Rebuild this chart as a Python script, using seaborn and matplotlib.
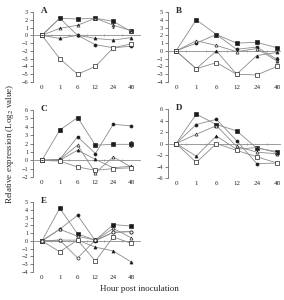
import matplotlib
matplotlib.use("Agg")
import matplotlib.pyplot as plt
import seaborn as sns

sns.set_style("ticks")
plt.rcParams['font.family'] = ['Liberation Serif', 'DejaVu Serif']
plt.rcParams['mathtext.fontset'] = 'stix'

hours = ["0", "1", "6", "12", "24", "48"]

# Panel A
a_s1 = [0, 2.2, 2.1, 2.2, 1.8, 0.5]
a_s2 = [0, 2.2, 0.0, -1.2, -1.6, -1.4]
a_s3 = [0, 0.9, 1.3, 2.2, 1.3, 0.6]
a_s4 = [0, -0.4, 0.0, -0.4, -0.6, -0.3]
a_s5 = [0, -3.0, -5.0, -4.0, -1.6, -1.1]
a_err3 = [0, 0, 0, 0, 0.4, 0]

# Panel B
b_s1 = [0, 4.0, 2.1, 1.0, 1.1, 0.4]
b_s2 = [0, 1.0, 2.1, 0.2, 0.5, -1.1]
b_s3 = [0, 1.3, 0.7, -0.1, 0.3, -1.3]
b_s4 = [0, -2.3, 0.0, -3.0, -0.6, -0.2]
b_s5 = [0, -2.3, -1.5, -3.0, -3.1, -2.0]
b_err2 = [0, 0, 0, 0, 0, 0.3]

# Panel C
c_s1 = [0, 3.6, 5.1, 1.8, 1.9, 1.9]
c_s2 = [0, 0.1, 2.8, 0.8, 4.3, 4.1]
c_s3 = [0, 0.1, 1.8, -1.5, 0.4, -0.8]
c_s4 = [0, 0.0, 1.2, 0.1, -0.9, -0.7]
c_s5 = [0, -0.1, -0.8, -1.2, -1.0, -0.9]
c_err1 = [0, 0.25, 0, 0, 0.1, 0.35]

# Panel D
d_s1 = [0, 5.1, 3.3, 2.2, -0.8, -1.4]
d_s2 = [0, 3.3, 4.2, 0.5, -3.5, -3.4]
d_s3 = [0, 1.6, 3.1, -0.5, -1.5, -1.8]
d_s4 = [0, -2.2, 1.3, -1.0, -0.7, -1.6]
d_s5 = [0, -3.3, 0.0, -1.2, -2.3, -3.4]

# Panel E
e_s1 = [0, 4.2, 0.9, 0.1, 2.1, 1.9]
e_s2 = [0, 1.5, 3.3, 0.0, 1.1, 1.2]
e_s3 = [0, 1.5, 0.6, 0.1, 1.6, 0.4]
e_s4 = [0, 0.1, 0.1, -0.8, -1.3, -2.7]
e_s5 = [0, -1.4, 0.1, -2.6, 0.5, -0.3]
e_s6 = [0, 0.1, -2.2, 0.1, 1.1, 1.2]

# marker styles: (marker, face colour)
styles = [('s', '0.1'), ('o', '0.1'), ('^', 'white'), ('^', '0.1'), ('s', 'white'), ('o', 'white')]

# name, series, errors, ylim, ytick step, pixel box (left, right, top, bottom), xlim
panels = [
    ("A", [a_s1, a_s2, a_s3, a_s4, a_s5], {2: a_err3}, (-6, 3), 1, (33, 140, 12, 82), (-0.5, 5.5)),
    ("B", [b_s1, b_s2, b_s3, b_s4, b_s5], {1: b_err2}, (-4, 5), 1, (168, 280, 12, 82), (-0.4, 5.15)),
    ("C", [c_s1, c_s2, c_s3, c_s4, c_s5], {0: c_err1}, (-2, 6), 1, (33, 140, 110, 177), (-0.5, 5.5)),
    ("D", [d_s1, d_s2, d_s3, d_s4, d_s5], {}, (-6, 6), 2, (168, 280, 109, 178), (-0.4, 5.15)),
    ("E", [e_s1, e_s2, e_s3, e_s4, e_s5, e_s6], {}, (-4, 5), 1, (33, 140, 202, 272), (-0.5, 5.5)),
]

W, H = 284, 300
fig = plt.figure(figsize=(W / 100, H / 100), dpi=100)
pos = list(range(len(hours)))

for name, series, errs, ylim, step, box, xlim in panels:
    l, r, t, b = box
    ax = fig.add_axes([l / W, 1 - b / H, (r - l) / W, (b - t) / H])
    for i, vals in enumerate(series):
        m, fc = styles[i % len(styles)]
        sns.lineplot(x=pos, y=vals, ax=ax, color='0.55', lw=0.6, marker=m,
                     markersize=2.2, markerfacecolor=fc, markeredgecolor='0.15',
                     markeredgewidth=0.5, zorder=3)
        if i in errs:
            ax.errorbar(pos, vals, yerr=errs[i], fmt='none', ecolor='0.15',
                        elinewidth=0.5, capsize=1, capthick=0.5, zorder=4)
    ax.set_xlim(*xlim)
    ax.set_ylim(*ylim)
    ax.set_yticks(list(range(ylim[0], ylim[1] + 1, step)))
    ax.tick_params(axis='y', labelsize=4.5, length=2, width=0.5, pad=1.5, color='0.3')
    for sp in ['top', 'right']:
        ax.spines[sp].set_visible(False)
    ax.spines['left'].set_linewidth(0.5)
    ax.spines['left'].set_color('0.3')
    ax.spines['bottom'].set_position(('data', 0))
    ax.spines['bottom'].set_linewidth(0.6)
    ax.spines['bottom'].set_color('0.55')
    ax.set_xticks([p + 0.5 for p in pos[:-1]])
    ax.tick_params(axis='x', length=1.5, direction='inout', width=0.5,
                   color='0.55', labelbottom=False)
    sec = ax.secondary_xaxis('bottom')
    sec.set_xticks(pos, hours)
    sec.tick_params(length=0, labelsize=5, pad=2.5)
    sec.spines['bottom'].set_visible(False)
    ax.set_xlabel("")
    ax.set_ylabel("")
    ax.text(0.07, 1.02, name, transform=ax.transAxes, fontsize=6.5,
            fontweight='bold', va='center', ha='left')

fig.text(0.035, 0.52, "Relative expression (Log$_2$ value)", rotation=90,
         fontsize=6.5, va='center', ha='center')
fig.text(0.49, 0.037, "Hour post inoculation", fontsize=6.5, va='center', ha='center')

fig.savefig("out.png", dpi=100)
